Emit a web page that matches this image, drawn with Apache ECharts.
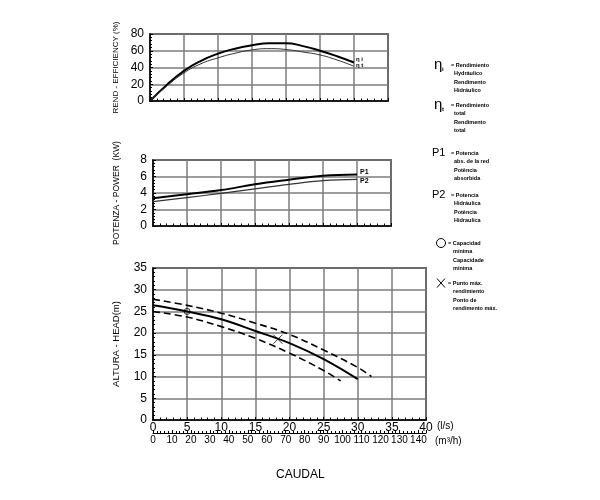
<!DOCTYPE html>
<html><head><meta charset="utf-8">
<script src="https://cdn.jsdelivr.net/npm/echarts@6/dist/echarts.min.js"></script>
<style>html,body{margin:0;padding:0;background:#fff}#c{width:600px;height:500px}</style>
</head><body><div id="c"></div>
<script>
// ---- data (flow in l/s) ----
const flowEta = [0, 2.5, 5, 7.5, 10, 12.5, 15, 17.5, 20, 22.5, 25, 27.5, 30];
const etaHydraulic = [0, 19.5, 36, 48, 56.5, 62.5, 66.5, 69, 69, 65.5, 60, 53.5, 46];
const etaTotal = [0, 18, 33.5, 44.5, 51.5, 57, 61, 62.5, 61.5, 58.5, 55, 49, 41.5];

const flowPower = [0, 5, 10, 15, 20, 25, 30];
const powerP1 = [3.35, 3.85, 4.35, 5.05, 5.6, 6.1, 6.25];
const powerP2 = [2.95, 3.45, 3.95, 4.5, 5.05, 5.5, 5.65];

const flowHead = [0, 5, 10, 15, 20, 25, 30];
const headMain = [26.4, 25.0, 23.2, 20.5, 17.7, 14.0, 9.4];
const flowHeadUpper = [0, 5, 10, 15, 20, 25, 30, 32];
const headUpper = [27.8, 26.4, 24.6, 22.3, 19.7, 16.1, 12.1, 10.0];
const flowHeadLower = [0, 5, 10, 15, 20, 25, 27.5];
const headLower = [25.0, 23.7, 21.5, 18.8, 15.4, 11.4, 9.0];

const minCapacityPoint = [5, 25];
const bestEfficiencyPoint = [18.3, 18.6];

const etaTicks = [0, 20, 40, 60, 80];
const powerTicks = [0, 2, 4, 6, 8];
const headTicks = [0, 5, 10, 15, 20, 25, 30, 35];
const flowLsTicks = [0, 5, 10, 15, 20, 25, 30, 35, 40];
const flowM3hTicks = [0, 10, 20, 30, 40, 50, 60, 70, 80, 90, 100, 110, 120, 130, 140];

const legendGroups = [
  {sym: 'η', sub: 'i', lines: ['= Rendimiento', 'Hydráulico', 'Rendimento', 'Hidráulico']},
  {sym: 'η', sub: 't', lines: ['= Rendimiento', 'total', 'Rendimento', 'total']},
  {sym: 'P1', sub: '', lines: ['= Potencia', 'abs. de la red', 'Potência', 'absorbida']},
  {sym: 'P2', sub: '', lines: ['= Potencia', 'Hidráulica', 'Potência', 'Hidraulica']},
  {sym: 'O', sub: '', lines: ['= Capacidad', 'mínima', 'Capacidade', 'mínima']},
  {sym: 'X', sub: '', lines: ['= Punto máx.', 'rendimiento', 'Ponto de', 'rendimento máx.']}
];

const pairs = (xs, ys) => xs.map((x, i) => [x, ys[i]]);

// ---- styling ----
const FONT = 'Liberation Sans, Arial, sans-serif';
const gridLine = {show: true, lineStyle: {color: '#7c7c7c', width: 1.5}};
const axisLine = {show: true, lineStyle: {color: '#000', width: 1.5}};
function xAx(grid, max, showLabels) {
  return {
    type: 'value', gridIndex: grid, min: 0, max: max, interval: 5,
    axisLine: axisLine, splitLine: gridLine,
    axisTick: {show: true, inside: true, length: 3, lineStyle: {color: '#000'}},
    minorTick: {show: true, splitNumber: 5, length: 2.5, lineStyle: {color: '#000'}},
    axisLabel: {show: showLabels, color: '#000', fontSize: 12, fontFamily: FONT, margin: 2,
      formatter: v => flowLsTicks.includes(v) ? String(v) : ''}
  };
}
function yAx(grid, ticks, name, gap, nameSize) {
  const step = ticks[1] - ticks[0];
  return {
    type: 'value', gridIndex: grid, min: ticks[0], max: ticks[ticks.length - 1], interval: step,
    name: name, nameLocation: 'middle', nameGap: gap,
    nameTextStyle: {color: '#000', fontSize: nameSize, fontFamily: FONT},
    axisLine: axisLine, splitLine: gridLine,
    axisTick: {show: true, inside: true, length: 3, lineStyle: {color: '#000'}},
    minorTick: {show: true, splitNumber: 5, length: 2, lineStyle: {color: '#000'}},
    axisLabel: {color: '#000', fontSize: 12, fontFamily: FONT, margin: 6,
      formatter: v => ticks.includes(v) ? String(v) : ''}
  };
}

const graphics = [];
const gy = [65, 105, 153, 195, 243, 283];
legendGroups.forEach((g, i) => {
  const y = gy[i];
  if (g.sym === 'O') {
    graphics.push({type: 'circle', shape: {cx: 441, cy: y, r: 4.5},
      style: {fill: 'none', stroke: '#000', lineWidth: 1}});
  } else if (g.sym === 'X') {
    graphics.push({type: 'polyline', shape: {points: [[437, y - 4.5], [445, y + 4.5]]}, style: {stroke: '#000', lineWidth: 1}});
    graphics.push({type: 'polyline', shape: {points: [[445, y - 4.5], [437, y + 4.5]]}, style: {stroke: '#000', lineWidth: 1}});
  } else {
    const isP = g.sym === 'P1' || g.sym === 'P2';
    graphics.push({type: 'text', left: isP ? 432 : 434, top: y - (isP ? 6 : 8), style: {
      text: g.sym, fill: '#000', font: (isP ? '11px ' : '15px ') + FONT}});
  }
  if (g.sub) graphics.push({type: 'text', left: 442, top: y + 1, style: {
    text: g.sub, fill: '#000', font: 'bold 6px ' + FONT}});
  g.lines.forEach((t, j) => {
    const startX = (i >= 4) ? (j === 0 ? 448 : 453) : (j === 0 ? 451 : 454);
    graphics.push({type: 'text', left: startX, top: y - 3 + j * 8.5, style: {
      text: t, fill: '#000', font: 'bold 5.5px ' + FONT}});
  });
});
graphics.push({type: 'text', left: 437, top: 421, style: {text: '(l/s)', fill: '#000', font: '10px ' + FONT}});
graphics.push({type: 'text', left: 435, top: 436, style: {text: '(m³/h)', fill: '#000', font: '10px ' + FONT}});
graphics.push({type: 'text', left: 276, top: 469, style: {text: 'CAUDAL', fill: '#000', font: '12px ' + FONT}});

const chart = echarts.init(document.getElementById('c'), null, {renderer: 'canvas'});
chart.setOption({
  animation: false,
  backgroundColor: '#fff',
  grid: [
    {left: 150, top: 34, width: 238, height: 67, show: true, borderColor: '#000', borderWidth: 1.5},
    {left: 153, top: 160, width: 238, height: 66, show: true, borderColor: '#000', borderWidth: 1.5},
    {left: 153, top: 268, width: 273, height: 152, show: true, borderColor: '#000', borderWidth: 1.5}
  ],
  xAxis: [
    xAx(0, 35, false),
    xAx(1, 35, false),
    xAx(2, 40, true),
    {
      type: 'value', gridIndex: 2, min: 0, max: 144, interval: 10, position: 'bottom', offset: 13,
      axisLine: {show: true, lineStyle: {color: '#000', width: 1}},
      splitLine: {show: false},
      axisTick: {show: true, inside: true, length: 3, lineStyle: {color: '#000'}},
      minorTick: {show: true, splitNumber: 5, length: 2, lineStyle: {color: '#000'}},
      axisLabel: {color: '#000', fontSize: 10, fontFamily: FONT, margin: 2,
        formatter: v => flowM3hTicks.includes(v) ? String(v) : ''}
    }
  ],
  yAxis: [
    yAx(0, etaTicks, 'REND - EFFICIENCY (%)', 30, 8),
    yAx(1, powerTicks, 'POTENZA - POWER  (KW)', 32, 8.5),
    yAx(2, headTicks, 'ALTURA - HEAD(m)', 32, 9.5)
  ],
  series: [
    {type: 'line', xAxisIndex: 0, yAxisIndex: 0, data: pairs(flowEta, etaHydraulic), smooth: 0.5,
      showSymbol: false, lineStyle: {color: '#000', width: 2},
      endLabel: {show: true, formatter: 'η i', fontSize: 6, fontWeight: 'bold', color: '#000', distance: 2, offset: [0, -3]}},
    {type: 'line', xAxisIndex: 0, yAxisIndex: 0, data: pairs(flowEta, etaTotal), smooth: 0.5,
      showSymbol: false, lineStyle: {color: '#333', width: 1},
      endLabel: {show: true, formatter: 'η t', fontSize: 6, fontWeight: 'bold', color: '#000', distance: 2, offset: [0, -1]}},
    {type: 'line', xAxisIndex: 1, yAxisIndex: 1, data: pairs(flowPower, powerP1), smooth: 0.4,
      showSymbol: false, lineStyle: {color: '#000', width: 2},
      endLabel: {show: true, formatter: 'P1', fontSize: 7, fontWeight: 'bold', color: '#000', distance: 3, offset: [0, -2]}},
    {type: 'line', xAxisIndex: 1, yAxisIndex: 1, data: pairs(flowPower, powerP2), smooth: 0.4,
      showSymbol: false, lineStyle: {color: '#333', width: 1.2},
      endLabel: {show: true, formatter: 'P2', fontSize: 7, fontWeight: 'bold', color: '#000', distance: 3, offset: [0, 2]}},
    {type: 'line', xAxisIndex: 2, yAxisIndex: 2, data: pairs(flowHead, headMain), smooth: 0.4,
      showSymbol: false, lineStyle: {color: '#000', width: 2}},
    {type: 'line', xAxisIndex: 2, yAxisIndex: 2, data: pairs(flowHeadUpper, headUpper), smooth: 0.4,
      showSymbol: false, lineStyle: {color: '#000', width: 1.6, type: [7, 4]}},
    {type: 'line', xAxisIndex: 2, yAxisIndex: 2, data: pairs(flowHeadLower, headLower), smooth: 0.4,
      showSymbol: false, lineStyle: {color: '#000', width: 1.6, type: [7, 4]}},
    {type: 'scatter', xAxisIndex: 2, yAxisIndex: 2, data: [minCapacityPoint], symbol: 'circle', symbolSize: 6,
      itemStyle: {color: 'rgba(0,0,0,0)', borderColor: '#000', borderWidth: 1}},
    {type: 'scatter', xAxisIndex: 2, yAxisIndex: 2, data: [bestEfficiencyPoint],
      symbol: 'path://M0,0L10,10M10,0L0,10', symbolSize: 9,
      itemStyle: {color: 'none', borderColor: '#000', borderWidth: 1}}
  ],
  graphic: graphics
});
</script>
</body></html>
